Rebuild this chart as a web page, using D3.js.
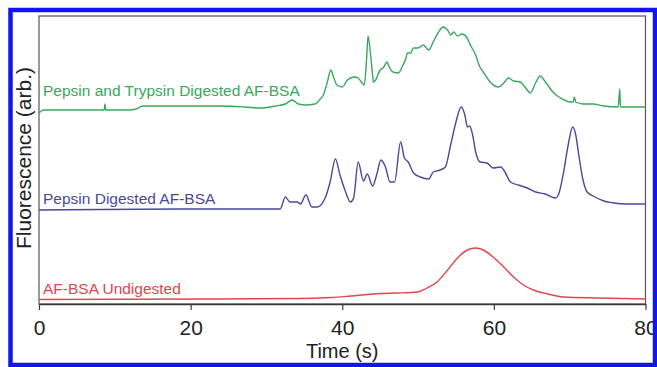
<!DOCTYPE html>
<html>
<head>
<meta charset="utf-8">
<script src="https://cdn.jsdelivr.net/npm/d3@7"></script>
<style>
  body { margin: 0; background: #fff; }
  svg { display: block; font-family: "Liberation Sans", Arial, Helvetica, sans-serif; }
</style>
</head>
<body>
<div id="chart"></div>
<script>
// traces: [time (s), fluorescence (arb.)], stacked offsets included
const trypsinPepsin = [
  [0, 191], [0.3, 193], [0.7, 194], [4.1, 194], [8.6, 194], [8.7, 200], [8.8, 194],
  [12.0, 194], [12.8, 195], [13.7, 198], [18.6, 198], [23.9, 198], [27.2, 197],
  [29.2, 196], [31.2, 198], [32.5, 200], [33.4, 204], [34.2, 200], [35.1, 199],
  [36.4, 200], [37.1, 205], [37.5, 209], [38.0, 221], [38.5, 234], [38.8, 228],
  [39.3, 219], [40.0, 217], [40.7, 224], [41.1, 226], [41.7, 227], [42.1, 226],
  [42.6, 221], [42.9, 219], [43.2, 244], [43.4, 268], [43.7, 252], [44.0, 229],
  [44.1, 222], [44.4, 224], [45.0, 234], [45.4, 236], [45.9, 242], [46.2, 237],
  [46.7, 232], [47.4, 231], [47.9, 237], [48.4, 246], [48.6, 251], [49.0, 251],
  [49.4, 256], [50.0, 256], [50.7, 259], [51.4, 254], [52.0, 262], [52.7, 272],
  [53.3, 277], [53.9, 274], [54.3, 269], [54.7, 272], [55.2, 268], [55.8, 270],
  [56.4, 267], [56.9, 259], [57.6, 249], [58.1, 238], [58.6, 232], [59.5, 222],
  [60.6, 217], [61.3, 221], [61.9, 226], [62.6, 223], [63.5, 222], [64.2, 216],
  [64.8, 211], [65.5, 221], [66.1, 228], [66.8, 222], [67.9, 211], [68.8, 206],
  [70.1, 202], [70.5, 202], [70.6, 207], [70.8, 202], [71.8, 200], [73.1, 200],
  [74.5, 198], [76.4, 197], [76.6, 215], [76.7, 197], [77.6, 197], [80.0, 197],
];

const pepsinOnly = [
  [0, 94], [8.1, 94.5], [21.3, 95], [30.5, 95], [31.8, 95], [32.5, 107], [33.1, 102],
  [34.1, 102], [34.5, 100], [35.2, 109], [36.0, 97], [36.7, 97], [37.8, 107],
  [38.4, 122], [39.1, 145], [39.7, 129], [40.4, 113], [41.1, 102], [41.5, 106],
  [42.1, 142], [42.8, 123], [43.3, 130], [44.0, 118], [44.6, 131], [45.1, 144],
  [45.7, 137], [46.3, 122], [46.9, 122], [47.7, 162], [48.2, 146], [48.7, 142],
  [49.4, 131], [50.3, 127], [51.4, 125], [52.0, 132], [52.9, 134], [53.6, 137],
  [54.3, 159], [54.9, 179], [55.7, 197], [56.2, 188], [56.5, 177], [56.8, 178],
  [57.2, 169], [57.6, 152], [58.2, 142], [59.1, 141], [59.9, 136], [60.9, 137],
  [61.3, 134], [62.2, 122], [63.2, 119], [64.4, 116], [65.5, 112], [66.8, 110],
  [68.1, 106], [68.5, 109], [69.2, 132], [69.8, 159], [70.4, 177], [70.8, 169],
  [71.2, 149], [71.7, 126], [72.3, 112], [73.1, 108], [74.5, 103], [75.8, 101],
  [77.6, 100], [80.0, 100],
];

const undigested = [
  [0, 4.5], [21.3, 5], [34.2, 5.5], [38.4, 6.5], [41.1, 8], [45.0, 10.5], [47.3, 11],
  [49.9, 12], [51.2, 16], [52.5, 22], [53.9, 34], [55.2, 46], [56.5, 54], [57.6, 56],
  [58.6, 54], [59.9, 47], [61.3, 37], [62.6, 27], [63.9, 19], [65.2, 14], [67.1, 10],
  [69.2, 7], [73.7, 6], [80.0, 5],
];

const seriesNames = [
  "Pepsin and Trypsin Digested AF-BSA",
  "Pepsin Digested AF-BSA",
  "AF-BSA Undigested",
];
const labelLevels = [208, 100, 10]; // where each name sits, in arb. units
const xTicks = [0, 20, 40, 60, 80];

const COLOR = {
  green: "#37a85c",
  blue: "#48489c",
  red: "#e4444c",
  axis: "#3a3a3a",
  frame: "#1414f0",
};

const width = 657;
const height = 367;
const plot = { left: 39, right: 645.5, top: 16, bottom: 304 };

const x = d3.scaleLinear().domain([0, 80]).range([plot.left, plot.right]);
const y = d3.scaleLinear().domain([0, 288]).range([plot.bottom, plot.top]);

const svg = d3.select("#chart")
  .append("svg")
  .attr("width", width)
  .attr("height", height);

svg.append("rect")
  .attr("width", width).attr("height", height)
  .attr("fill", "#fff");

// plot box
svg.append("rect")
  .attr("x", plot.left).attr("y", plot.top)
  .attr("width", plot.right - plot.left)
  .attr("height", plot.bottom - plot.top)
  .attr("fill", "none")
  .attr("stroke", "#555")
  .attr("stroke-width", 1.2);

// x axis
const xAxis = svg.append("g")
  .attr("transform", `translate(0,${plot.bottom})`)
  .call(d3.axisBottom(x).tickValues(xTicks).tickSize(6).tickSizeOuter(0));
xAxis.select(".domain").attr("stroke", COLOR.axis).attr("stroke-width", 1.4);
xAxis.selectAll(".tick line").attr("stroke", COLOR.axis).attr("stroke-width", 1.2);
xAxis.selectAll(".tick text")
  .attr("y", 31).attr("dy", null)
  .attr("font-size", 21)
  .attr("font-family", "Liberation Sans, Arial, sans-serif")
  .attr("fill", "#222");

svg.append("text")
  .attr("x", x(40))
  .attr("y", 358)
  .attr("text-anchor", "middle")
  .attr("font-size", 20)
  .attr("fill", "#222")
  .text("Time (s)");

svg.append("text")
  .attr("transform", "rotate(-90)")
  .attr("x", -158)
  .attr("y", 31)
  .attr("text-anchor", "middle")
  .attr("font-size", 21)
  .attr("fill", "#222")
  .text("Fluorescence (arb.)");

// traces
const line = d3.line()
  .curve(d3.curveMonotoneX)
  .x((d) => x(d[0]))
  .y((d) => y(d[1]));
const traces = [trypsinPepsin, pepsinOnly, undigested];
const colors = [COLOR.green, COLOR.blue, COLOR.red];

svg.append("g")
  .selectAll("path")
  .data(traces)
  .join("path")
  .attr("d", line)
  .attr("fill", "none")
  .attr("stroke", (d, i) => colors[i])
  .attr("stroke-width", 1.4)
  .attr("stroke-linejoin", "round");

svg.append("g")
  .selectAll("text")
  .data(seriesNames)
  .join("text")
  .attr("x", x(0) + 4)
  .attr("y", (d, i) => y(labelLevels[i]))
  .attr("font-size", 15.5)
  .attr("fill", (d, i) => colors[i])
  .text((d) => d);

// blue outer frame
svg.append("rect")
  .attr("x", 10.5).attr("y", 10)
  .attr("width", 644.5).attr("height", 355)
  .attr("fill", "none")
  .attr("stroke", COLOR.frame)
  .attr("stroke-width", 4.5);
</script>
</body>
</html>
